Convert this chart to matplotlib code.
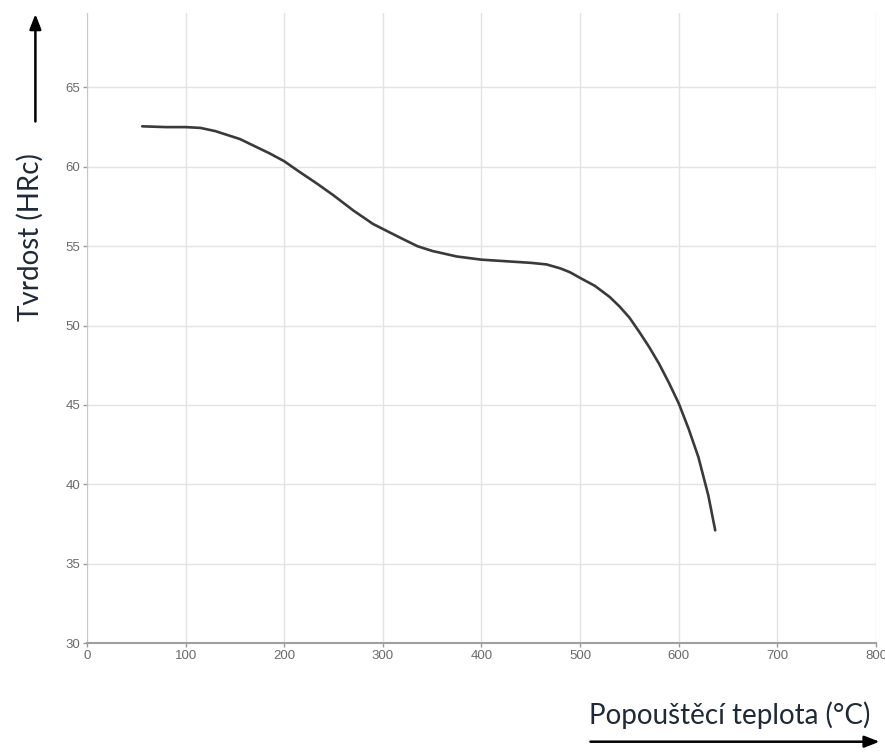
import numpy as np
import matplotlib.pyplot as plt

# temperatura odpuszczania (°C) i twardość (HRc)
teplota = [56, 80, 100, 115, 130, 145, 155, 170, 185, 200, 215, 233, 250, 270,
           290, 317, 335, 350, 375, 400, 425, 450, 466, 480, 490, 500, 515, 530,
           540, 550, 560, 570, 580, 590, 600, 610, 620, 630, 637]
tvrdost = [62.55, 62.5, 62.5, 62.45, 62.25, 61.95, 61.75, 61.3, 60.85, 60.35,
           59.7, 58.95, 58.2, 57.25, 56.4, 55.55, 55.0, 54.7, 54.35, 54.15, 54.05,
           53.95, 53.85, 53.6, 53.35, 53.0, 52.5, 51.8, 51.2, 50.5, 49.6, 48.65,
           47.6, 46.4, 45.1, 43.5, 41.7, 39.3, 37.1]

x_ticks = [0, 100, 200, 300, 400, 500, 600, 700, 800]
y_ticks = [30, 35, 40, 45, 50, 55, 60, 65]

fig = plt.figure(figsize=(8.85, 7.53), dpi=100)
ax = fig.add_axes([0.0983, 0.146, 0.8915, 0.837])

ax.plot(teplota, tvrdost, color='#3a3a3a', linewidth=1.9, solid_capstyle='round',
        solid_joinstyle='round')

ax.set_xlim(0, 800)
ax.set_ylim(30, 69.7)
ax.set_xticks(x_ticks)
ax.set_yticks(y_ticks)
ax.grid(True, color='#e3e3e3', linewidth=1.0)
ax.set_axisbelow(True)

for s in ['top', 'right']:
    ax.spines[s].set_visible(False)
ax.spines['left'].set_color('#c8c8c8')
ax.spines['bottom'].set_color('#a0a0a0')
ax.spines['bottom'].set_linewidth(1.5)
ax.tick_params(axis='both', colors='#9a9a9a', labelcolor='#6a6a6a', labelsize=9.5,
               length=3, width=1, pad=2)
for lab in ax.get_xticklabels() + ax.get_yticklabels():
    lab.set_family('Liberation Sans')

label_color = '#1f2937'
fig.text(0.034, 0.685, 'Tvrdost (HRc)', rotation=90, fontsize=20, family='Lato',
         color=label_color, ha='center', va='center')
fig.text(0.983, 0.05, 'Popouštěcí teplota (°C)', fontsize=20, family='Lato',
         color=label_color, ha='right', va='center')

# šipky
ax.annotate('', xy=(0.040, 0.985), xytext=(0.040, 0.835), xycoords='figure fraction',
            arrowprops=dict(arrowstyle='-|>,head_length=0.9,head_width=0.35',
                            color='black', lw=1.8))
ax.annotate('', xy=(0.997, 0.015), xytext=(0.664, 0.015), xycoords='figure fraction',
            arrowprops=dict(arrowstyle='-|>,head_length=0.9,head_width=0.35',
                            color='black', lw=1.8))

fig.savefig('out.png', dpi=100)
